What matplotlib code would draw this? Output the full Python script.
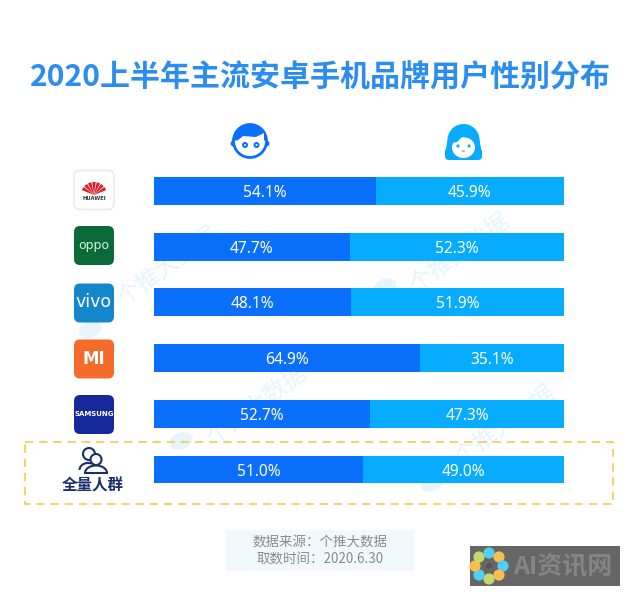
import matplotlib
matplotlib.use("Agg")
import matplotlib.pyplot as plt
from matplotlib.patches import FancyBboxPatch, Circle, Ellipse, Rectangle, Wedge, Polygon, Arc

plt.rcParams['font.family'] = ['Noto Sans CJK SC', 'DejaVu Sans']

title = "2020上半年主流安卓手机品牌用户性别分布"
brands = ["HUAWEI", "OPPO", "vivo", "MI", "SAMSUNG", "全量人群"]
male = [54.1, 47.7, 48.1, 64.9, 52.7, 51.0]
female = [45.9, 52.3, 51.9, 35.1, 47.3, 49.0]
source_lines = ["数据来源：个推大数据", "取数时间：2020.6.30"]
watermark = "个推大数据"

W, H = 640, 606
fig = plt.figure(figsize=(W / 100, H / 100), dpi=100, facecolor="white")

# Decoration layer in pixel coordinates
bg = fig.add_axes([0, 0, 1, 1], zorder=0)
bg.set_xlim(0, W); bg.set_ylim(H, 0); bg.axis("off")

# Bars layer
pitch = 55.7
top = 191 - pitch / 2
bottom = 469.5 + pitch / 2
ax = fig.add_axes([154 / W, 1 - bottom / H, 410 / W, (bottom - top) / H], zorder=1)
ax.set_xlim(0, 100); ax.set_ylim(5.5, -0.5); ax.axis("off"); ax.patch.set_alpha(0)

ypos = list(range(len(brands)))
ax.barh(ypos, male, height=0.5, color="#0a6ffb")
ax.barh(ypos, female, left=male, height=0.5, color="#07acff")
for y, m, f in zip(ypos, male, female):
    ax.text(m / 2, y, f"{m:.1f}%", color="white", fontsize=11.2, ha="center", va="center_baseline",
            family="Noto Sans")
    ax.text(m + f / 2, y, f"{f:.1f}%", color="white", fontsize=11.2, ha="center", va="center_baseline",
            family="Noto Sans")

# Overlay in pixel coordinates
ov = fig.add_axes([0, 0, 1, 1], zorder=2)
ov.set_xlim(0, W); ov.set_ylim(H, 0); ov.axis("off"); ov.patch.set_alpha(0)

ov.text(320, 77, title, fontsize=21.6, fontweight="bold", color="#2b8df2", ha="center", va="center")

# Watermarks
wm = "#e8f4fb"
for (x, y) in [(168, 266), (460, 253), (257, 405), (505, 425)]:
    bg.text(x, y, watermark, fontsize=17, color=wm, rotation=36, ha="center", va="center",
            rotation_mode="anchor")
for (x, y) in [(90, 330), (385, 287), (181, 441), (432, 483)]:
    bg.add_patch(Ellipse((x, y), 22, 15, angle=-20, color=wm))

# Boy icon
blue = "#0a6ffb"
ov.add_patch(Circle((233.5, 143.5), 2.2, fc=blue, ec=blue, lw=1))
ov.add_patch(Circle((266.5, 143.5), 2.2, fc=blue, ec=blue, lw=1))
ov.add_patch(Ellipse((250, 141), 33, 33, fc="white", ec=blue, lw=2))
ov.add_patch(Wedge((250, 140.5), 16.5, 180, 360, fc=blue, ec="none"))
ov.add_patch(Polygon([(237, 141), (243, 136), (256, 137), (264, 133), (264, 141)], fc="white", ec="none"))
for x in (245, 256.5):
    ov.add_patch(Circle((x, 145), 2.0, fc="white", ec=blue, lw=1.4))

# Girl icon
cy = "#07acff"
ov.add_patch(Ellipse((463.5, 140), 32, 32, fc=cy, ec="none"))
ov.add_patch(FancyBboxPatch((445, 148), 37, 12, boxstyle="round,pad=0,rounding_size=4", fc=cy, ec="none"))
ov.add_patch(Polygon([(447.5, 140), (479.5, 140), (482, 154), (445, 154)], fc=cy, ec="none"))
ov.add_patch(Ellipse((463.5, 147.5), 23, 21, fc="white", ec="none"))
ov.add_patch(Polygon([(451, 143), (455, 133), (472, 133), (476, 143), (470, 138), (462, 137), (457, 142)],
                     fc=cy, ec="none"))
ov.add_patch(Circle((458, 146), 1.6, fc=cy))
ov.add_patch(Circle((469, 146), 1.6, fc=cy))
ov.add_patch(Ellipse((463.5, 151), 4, 1.4, fc="#d5848f"))

# Brand logos
def tile(y, color, ec="none"):
    ov.add_patch(FancyBboxPatch((74, y - 19.5), 40, 39, boxstyle="round,pad=0,rounding_size=6",
                                fc=color, ec=ec, lw=1.2))

tile(190, "white", "#eaeaea")
for a in range(200, 340, 20):
    ov.add_patch(Wedge((94, 195), 13, a + 2, a + 18, fc="#d8232a", ec="none"))
ov.text(94, 198.5, "HUAWEI", fontsize=3.8, color="#333333", ha="center", va="center",
        family="DejaVu Sans", fontweight="bold")

tile(245.5, "#0a6b38")
ov.text(94, 245, "oppo", fontsize=9, color="#d5efdc", ha="center", va="center", family="DejaVu Sans")
tile(303, "#1487cc")
ov.text(94, 302, "vivo", fontsize=12.5, color="white", ha="center", va="center", family="DejaVu Sans")
tile(359, "#f56b2a")
ov.text(94, 359, "MI", fontsize=12, color="white", ha="center", va="center", fontweight="bold",
        family="DejaVu Sans")
tile(414.5, "#15299b")
ov.text(94, 414.5, "SAMSUNG", fontsize=5.0, color="white", ha="center", va="center", fontweight="bold",
        family="DejaVu Sans")

# Overall group
ov.add_patch(Rectangle((24.5, 442), 588, 62, fc="none", ec="#f5cb4b", lw=1.2, ls=(0, (5, 3.5))))
navy = "#17306b"
ov.add_patch(Circle((89, 454), 6, fc="white", ec=navy, lw=1.5))
ov.add_patch(Circle((96, 459.5), 5.5, fc="white", ec=navy, lw=1.5))
ov.add_patch(Arc((88, 470), 17, 14, theta1=180, theta2=300, ec=navy, lw=1.5))
ov.add_patch(Arc((96, 473), 22, 15, theta1=180, theta2=360, ec=navy, lw=1.5))
ov.plot([85, 107], [473, 473], color=navy, lw=1.5)
ov.text(92.5, 485, brands[5], fontsize=11.2, fontweight="bold", color=navy, ha="center", va="center")

# Source box
ov.add_patch(Rectangle((226, 530), 188, 41, fc="#f2f9fd", ec="none"))
ov.text(320, 542, source_lines[0], fontsize=9.7, color="#8a8a8a", ha="center", va="center")
ov.text(320, 560, source_lines[1], fontsize=9.7, color="#8a8a8a", ha="center", va="center")

# Corner badge
ov.add_patch(Rectangle((470, 546), 150, 40, fc="#666666", ec="none"))
for (x, y, c) in [(489, 553, "#4fd0f5"), (499, 557, "#fbbd4f"), (503, 566, "#4fd0f5"), (499, 575, "#fbbd4f"),
                  (489, 579, "#c2db6a"), (479, 575, "#4fd0f5"), (475, 566, "#fbbd4f"), (479, 557, "#c2db6a")]:
    ov.add_patch(Circle((x, y), 5.6, fc=c, ec="none"))
ov.add_patch(Circle((489, 566), 3, fc="#555555", ec="none"))
ov.text(513, 566, "AI资讯网", fontsize=18, fontweight="bold", style="italic", color="#858585",
        ha="left", va="center")

fig.savefig("out.png", dpi=100, facecolor="white")
